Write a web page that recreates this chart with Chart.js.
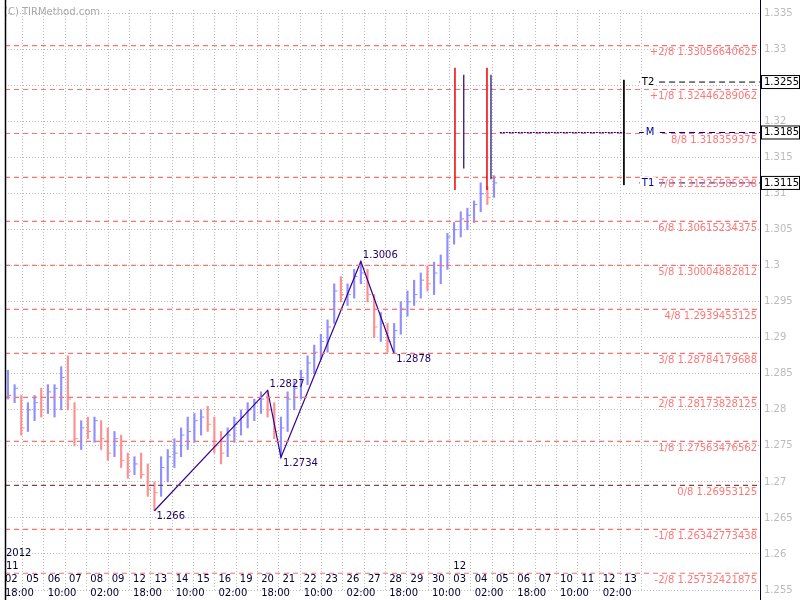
<!DOCTYPE html>
<html><head><meta charset="utf-8">
<script src="https://cdn.jsdelivr.net/npm/chart.js@4"></script>
<style>body{margin:0;background:#fff}#wrap{width:800px;height:600px}</style>
</head><body><div id="wrap"><canvas id="c"></canvas></div>
<script>
// 4h-ish bars, x in units where one axis label = 8 units
const highs = [1.2855,1.2835,1.2820,1.2810,1.2820,1.2830,1.2835,1.2835,1.2860,1.2875,1.2810,1.2785,1.2790,1.2790,1.2785,1.2775,1.2770,1.2765,1.2740,1.2735,1.2740,1.2725,1.2700,1.2735,1.2745,1.2760,1.2775,1.2790,1.2795,1.2800,1.2805,1.2790,1.2770,1.2775,1.2790,1.2800,1.2810,1.2815,1.2825,1.2827,1.2810,1.2790,1.2825,1.2840,1.2855,1.2875,1.2890,1.2905,1.2925,1.2975,1.2985,1.2975,1.2995,1.3006,1.2995,1.2960,1.2935,1.2920,1.2920,1.2950,1.2965,1.2980,1.2990,1.3000,1.3005,1.3015,1.3045,1.3060,1.3075,1.3080,1.3090,1.3115,1.3110,1.3125];
const lows  = [1.2815,1.2810,1.2765,1.2770,1.2785,1.2790,1.2795,1.2790,1.2800,1.2800,1.2750,1.2745,1.2760,1.2755,1.2745,1.2730,1.2735,1.2720,1.2705,1.2710,1.2705,1.2680,1.2660,1.2680,1.2700,1.2720,1.2735,1.2745,1.2755,1.2765,1.2770,1.2740,1.2725,1.2735,1.2755,1.2765,1.2775,1.2785,1.2795,1.2790,1.2760,1.2734,1.2770,1.2800,1.2815,1.2835,1.2850,1.2870,1.2880,1.2920,1.2950,1.2945,1.2955,1.2975,1.2950,1.2900,1.2895,1.2880,1.2878,1.2905,1.2930,1.2945,1.2955,1.2965,1.2960,1.2975,1.2995,1.3030,1.3040,1.3050,1.3060,1.3075,1.3085,1.3095];
const closes= [1.2820,1.2830,1.2775,1.2800,1.2810,1.2800,1.2825,1.2830,1.2845,1.2815,1.2760,1.2775,1.2770,1.2785,1.2760,1.2740,1.2760,1.2730,1.2715,1.2725,1.2710,1.2690,1.2685,1.2720,1.2735,1.2740,1.2765,1.2770,1.2785,1.2790,1.2780,1.2750,1.2740,1.2765,1.2780,1.2790,1.2800,1.2810,1.2815,1.2800,1.2770,1.2775,1.2815,1.2830,1.2845,1.2865,1.2880,1.2895,1.2915,1.2965,1.2960,1.2960,1.2985,1.2990,1.2960,1.2915,1.2920,1.2895,1.2910,1.2940,1.2950,1.2960,1.2980,1.2975,1.2990,1.3000,1.3040,1.3050,1.3065,1.3070,1.3085,1.3100,1.3095,1.3115];
const days  = ['02','05','06','07','08','09','12','13','14','15','16','19','20','21','22','23','26','27','28','29','30','03','04','05','06','07','10','11','12','13'];
const times = ['18:00','10:00','02:00'];   // shown under every second day label
// zigzag: bar index + price label
const zigBars = [22,39,41,53,58];
const zigVals = [1.266,1.2827,1.2734,1.3006,1.2878];
const murrayNames = ['+2/8','+1/8','8/8','7/8','6/8','5/8','4/8','3/8','2/8','1/8','0/8','-1/8','-2/8'];
const murrayVals  = [1.33056640625,1.32446289062,1.318359375,1.31225585938,1.30615234375,1.30004882812,1.2939453125,1.28784179688,1.28173828125,1.27563476562,1.26953125,1.26342773438,1.25732421875];
const targets = {T2:1.3255, M:1.3185, T1:1.3115};

const xOf = k => 2.495*k - 1.5;
const XMIN = -2.6, XMAX = 280.3;
const bars = highs.map((h,k)=>({x:xOf(k), y:[lows[k],h]}));
const barCols = closes.map((c,k)=> k===0 || c>=closes[k-1] ? '#8f8fff' : '#ff8f8f');
const ticks = closes.map((c,k)=>({x:xOf(k)+0.5, y:c}));

const seg = (x1,y1,x2,y2,color,dash,w) => ({type:'line', data:[{x:x1,y:y1},{x:x2,y:y2}], borderColor:color, borderDash:dash||[], borderWidth:w||1, pointRadius:0, order:0});

const datasets = [
  {type:'bar', data:bars, backgroundColor:barCols, barThickness:1.5, order:3},
  {type:'scatter', data:ticks, pointStyle:'line', radius:2, borderColor:barCols, borderWidth:1, order:3},
  {type:'line', data:zigBars.map((k,i)=>({x:xOf(k), y:zigVals[i]})), borderColor:'#330099', borderWidth:1.2, pointRadius:0, order:1},
  seg(166,1.3275,166,1.3105,'#ee0000',[],1.5),
  seg(178,1.3275,178,1.3105,'#ee0000',[],1.5),
  seg(169.3,1.3265,169.3,1.3135,'#220066',[],1.2),
  seg(179.5,1.3265,179.5,1.3120,'#220066',[],1.2),
  seg(229.3,1.3258,229.3,1.3112,'#000000',[],1),
  seg(182.8,targets.M,229.7,targets.M,'#000099',[2,1],1),
  seg(235,targets.M,XMAX,targets.M,'#000099',[6,4],1),
  seg(235,targets.T2,XMAX,targets.T2,'#000000',[6,4],1),
  seg(235,targets.T1,XMAX,targets.T1,'#000099',[6,4],1),
];
murrayVals.forEach((v,i)=>{
  const dark = murrayNames[i]==='0/8';
  datasets.push(seg(XMIN,v,XMAX,v, dark?'#884444':'#ff7070',[5,4],1.2));
});

const overlay = {
  id:'overlay',
  afterDraw(ch){
    const c=ch.ctx, xs=ch.scales.x, ys=ch.scales.y, a=ch.chartArea;
    c.save();
    c.font='10px "DejaVu Sans"'; c.textBaseline='middle';
    // murray labels
    c.textAlign='right';
    murrayVals.forEach((v,i)=>{
      c.fillStyle='#ff7777';
      c.fillText(murrayNames[i]+' '+String(v), a.right-3, ys.getPixelForValue(v)+7);
    });
    // targets
    c.textAlign='left';
    [['T2',targets.T2,'#000'],['M',targets.M,'#000099'],['T1',targets.T1,'#000099']].forEach(([n,v,col])=>{
      const y=ys.getPixelForValue(v);
      const tx=xs.getPixelForValue(236)+(n==='M'?4:0);
      c.fillStyle='#fff'; c.fillRect(tx-2,y-6,16,12);
      c.fillStyle=col; c.fillText(n, tx, y);
      c.fillStyle='#fff'; c.fillRect(a.right+1,y-7,38,14);
      c.strokeStyle='#000'; c.lineWidth=1; c.strokeRect(a.right+1.5,y-6.5,38,13);
      c.fillStyle='#000'; c.fillText(String(v), a.right+4, y);
    });
    // zigzag labels
    c.fillStyle='#220066';
    zigBars.forEach((k,i)=>{
      const up = i%2===1;
      c.fillText(String(zigVals[i]), xs.getPixelForValue(xOf(k))+2, ys.getPixelForValue(zigVals[i])+(up?-6:6));
    });
    // x labels
    c.fillStyle='#000033';
    for(let i=0;i<days.length;i++){
      const x=xs.getPixelForValue(i*8);
      c.fillText(days[i], x-7, 579);
      if(i%2===0) c.fillText(times[(i/2)%3], x-7, 593);
    }
    c.fillText('2012', 6, 553); c.fillText('11', 6, 566);
    c.fillText('12', xs.getPixelForValue(8*21)-7, 566);
    c.fillStyle='#aaaaaa'; c.fillText('(C) TIRMethod.com', 4, 12);
    // borders
    c.strokeStyle='#000'; c.lineWidth=1.5;
    c.beginPath(); c.moveTo(a.left+0.5,0); c.lineTo(a.left+0.5,600); c.stroke();
    c.strokeStyle='#000033'; c.lineWidth=1;
    c.beginPath(); c.moveTo(a.right+0.5,0); c.lineTo(a.right+0.5,600); c.stroke();
    c.restore();
  }
};

new Chart(document.getElementById('c'), {
  data:{datasets},
  options:{
    responsive:true, maintainAspectRatio:false, animation:false,
    layout:{padding:{left:4, top:-6}},
    plugins:{legend:{display:false}, tooltip:{enabled:false}},
    scales:{
      x:{type:'linear', min:XMIN, max:XMAX, offset:false,
        afterBuildTicks:s=>{ s.ticks=days.map((_,i)=>({value:i*8})); },
        ticks:{display:false},
        grid:{color:'#bbbbbb', lineWidth:1, drawTicks:false},
        border:{display:false, dash:[1,2]}},
      y:{position:'right', min:1.255, max:1.3355,
        afterFit:s=>{ s.width=40; },
        afterBuildTicks:s=>{ s.ticks=Array.from({length:17},(_,i)=>({value:1.255+i*0.005})); },
        ticks:{color:'#bbbbbb', font:{family:'DejaVu Sans', size:10}, padding:4,
          callback:v=>String(+v.toFixed(3))},
        grid:{color:'#bbbbbb', drawTicks:false},
        border:{display:false, dash:[1,2]}}
    }
  },
  plugins:[overlay]
});
</script></body></html>
